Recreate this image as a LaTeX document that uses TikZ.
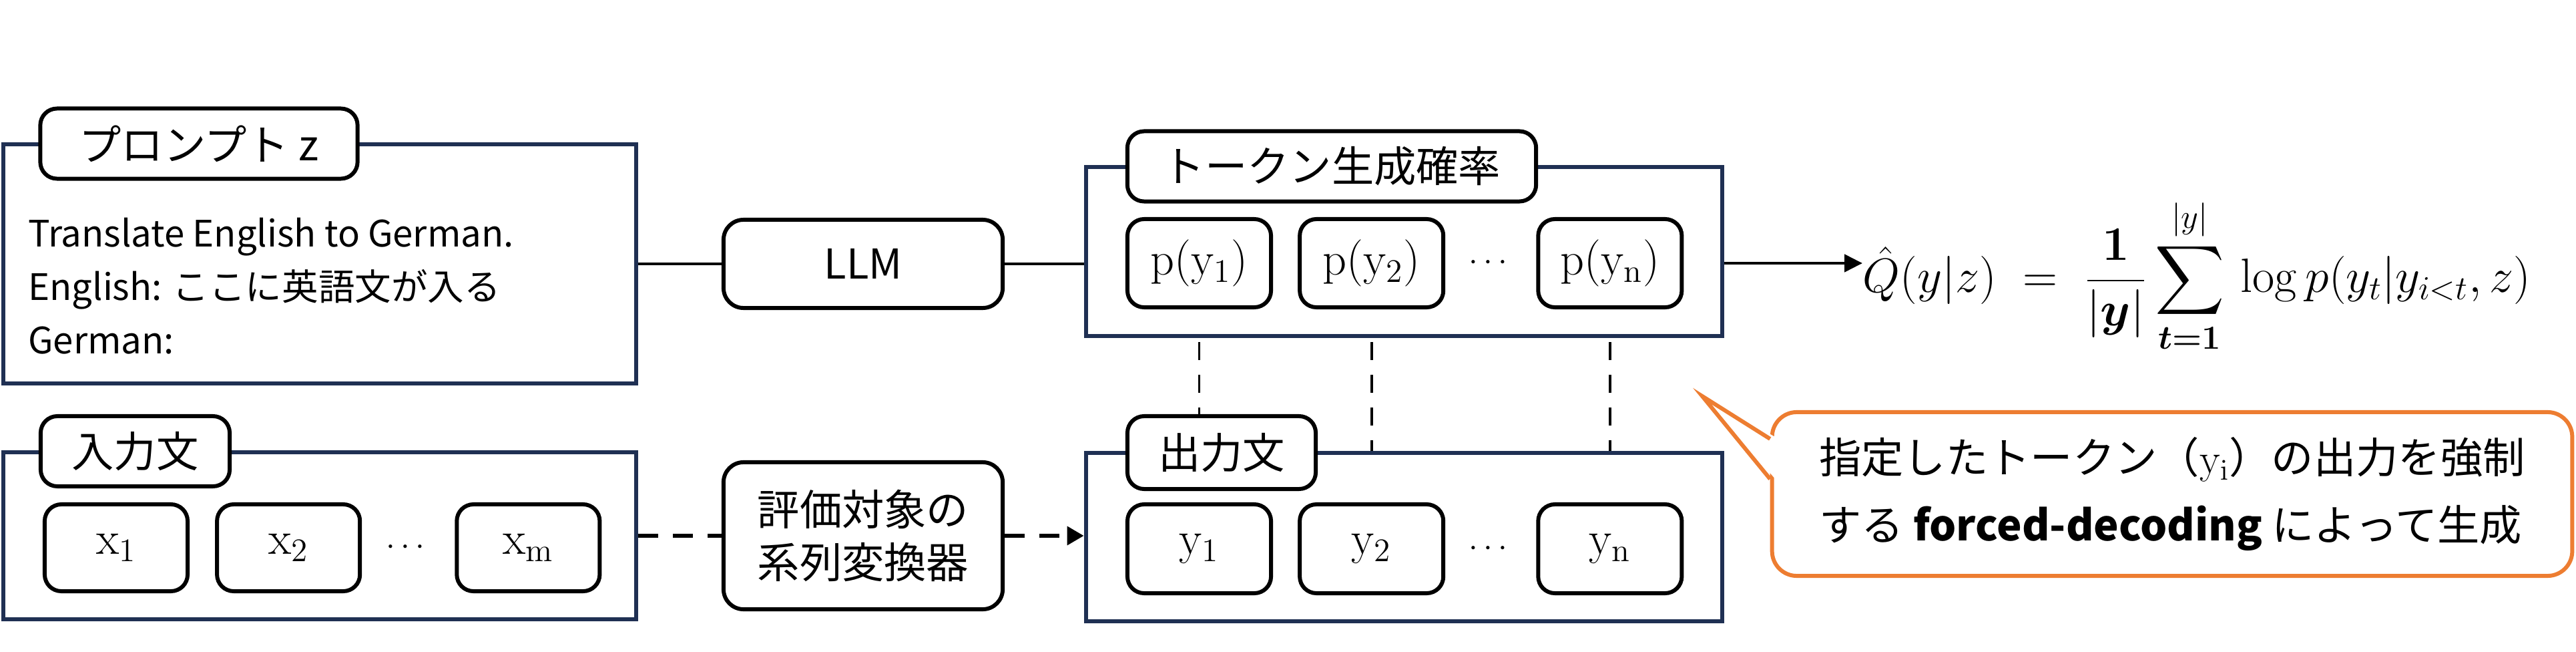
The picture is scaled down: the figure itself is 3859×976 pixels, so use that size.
\RequirePackage{fix-cm}
\documentclass[tikz,border=0pt]{standalone}
\usepackage{amsmath}
\usepackage{amsfonts}
\usepackage[no-math]{fontspec}
\setmainfont{Noto Sans CJK JP}
\usetikzlibrary{positioning,arrows.meta,backgrounds}
\definecolor{framenavy}{HTML}{1F3053}
\definecolor{noteorange}{HTML}{ED7D31}

\begin{document}
\begin{tikzpicture}[x=0.01cm, y=-0.01cm,
    frame/.style={draw=framenavy,line width=1.7pt,fill=white,inner sep=0pt},
    tab/.style={draw,line width=1.7pt,rounded corners=0.25cm,fill=white,minimum height=1.05cm,font=\fontsize{18}{22}\selectfont},
    token/.style={draw,line width=1.7pt,rounded corners=0.25cm,fill=white,minimum width=2.15cm,minimum height=1.32cm,font=\fontsize{20}{24}\selectfont},
    block/.style={draw,line width=1.7pt,rounded corners=0.3cm,fill=white,minimum width=4.18cm,align=center},
    link/.style={line width=1.4pt},
    dashlink/.style={line width=1.8pt,dash pattern=on 0.3cm off 0.22cm},
    guide/.style={line width=1.1pt,dash pattern=on 0.27cm off 0.22cm},
    dots/.style={font=\fontsize{14}{17}\selectfont},
    node distance=2.58cm]
  \useasboundingbox (0,0) rectangle (3859,976);

  % prompt
  \node[frame,minimum width=9.47cm,minimum height=3.58cm] (prompt) at (479,395) {};
  \node[tab,minimum width=4.75cm] (promptTab) at (298,215) {プロンプト z};
  \node[anchor=west,align=left,font=\fontsize{15.5}{22.8}\selectfont] (promptText) at (30,428)
    {Translate English to German.\\English: ここに英語文が入る\\German:};

  % input sentence
  \node[frame,minimum width=9.47cm,minimum height=2.5cm] (input) at (479,802) {};
  \node[tab,minimum width=2.83cm] (inputTab) at (202.5,675.5) {入力文};
  \node[token,minimum width=2.14cm,minimum height=1.3cm] (x1) at (174,820) {$\mathrm{x}_1$};
  \node[token,minimum width=2.14cm,minimum height=1.3cm] (x2) [right of=x1] {$\mathrm{x}_2$};
  \node[dots] (xdots) [right of=x2, node distance=1.79cm] {$\cdots$};
  \node[token,minimum width=2.14cm,minimum height=1.3cm] (xm) [right of=xdots, node distance=1.8cm] {$\mathrm{x}_{\mathrm{m}}$};

  % model and system
  \node[block,minimum height=1.32cm,font=\fontsize{17.5}{21}\selectfont] (llm) at (1293,395) {LLM};
  \node[block,minimum height=2.2cm,font=\fontsize{18}{22.5}\selectfont] (eval) at (1293,802) {評価対象の\\系列変換器};

  % token probabilities
  \node[frame,minimum width=9.53cm,minimum height=2.53cm] (prob) at (2103.5,376.5) {};
  \node[tab,minimum width=6.12cm] (probTab) at (1995,249) {トークン生成確率};
  \node[token] (p1) at (1796.5,394) {$\mathrm{p}(\mathrm{y}_1)$};
  \node[token] (p2) [right of=p1] {$\mathrm{p}(\mathrm{y}_2)$};
  \node[dots] (pdots) [right of=p2, node distance=1.79cm] {$\cdots$};
  \node[token] (pn) [right of=pdots, node distance=1.78cm] {$\mathrm{p}(\mathrm{y}_{\mathrm{n}})$};

  % output sentence
  \node[frame,minimum width=9.53cm,minimum height=2.52cm] (out) at (2103.5,804) {};
  \node[tab,minimum width=2.82cm,minimum height=1.09cm] (outTab) at (1830,677.5) {出力文};
  \node[token,minimum height=1.33cm] (y1) at (1796.5,821.5) {$\mathrm{y}_1$};
  \node[token,minimum height=1.33cm] (y2) [right of=y1] {$\mathrm{y}_2$};
  \node[dots] (ydots) [right of=y2, node distance=1.79cm] {$\cdots$};
  \node[token,minimum height=1.33cm] (yn) [right of=ydots, node distance=1.78cm] {$\mathrm{y}_{\mathrm{n}}$};

  % score
  \node[anchor=west,inner sep=0pt,font=\fontsize{20.5}{24}\selectfont] (score) at (2790,413)
    {$\displaystyle \hat{Q}(y|z) \;=\; \frac{\mathbf{1}}{|\boldsymbol{y}|}\sum_{\boldsymbol{t=1}}^{|y|}\,\log p(y_t|y_{i<t},z)$};

  % note
  \node[draw=noteorange,line width=1.7pt,rounded corners=0.37cm,fill=white,minimum width=11.98cm,minimum height=2.45cm,
        align=left,font=\fontsize{18}{28.5}\selectfont] (note) at (3254,739.5)
    {指定したトークン（$\mathrm{y}_{\mathrm{i}}$）の出力を強制\\する \textbf{forced-decoding} によって生成};
  \coordinate (noteTip) at (2550,593);
  \fill[white] ([xshift=0.1cm,yshift=0.84cm]note.west) -- (noteTip) -- ([xshift=0.1cm,yshift=0.2cm]note.west) -- cycle;
  \draw[noteorange,line width=1.7pt] ([yshift=0.825cm]note.west) -- (noteTip) -- ([yshift=0.225cm]note.west);

  % connectors
  \draw[link] (prompt) -- (llm);
  \draw[link] (llm) -- (llm -| prob.west);
  \draw[link,-{Triangle[length=0.27cm,width=0.26cm]}] (prob.east |- p1) -- (score.west |- p1);
  \draw[dashlink] (input) -- (eval);
  \draw[dashlink,-{Triangle[length=0.25cm,width=0.27cm]}] (eval) -- (eval -| out.west);
  \begin{scope}[on background layer]
    \foreach \i in {1,2,n}
      \draw[guide] (p\i) -- (y\i);
  \end{scope}
\end{tikzpicture}
\end{document}
